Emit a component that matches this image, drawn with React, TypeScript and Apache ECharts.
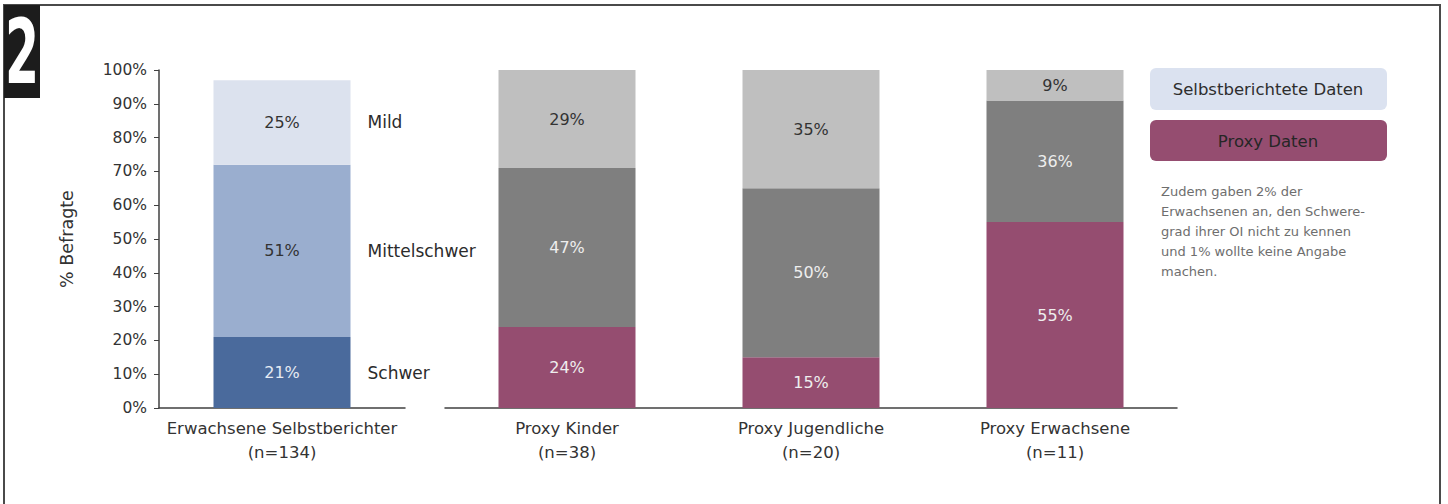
import React, { useEffect, useRef } from "react";
import * as echarts from "echarts";

// Severity shares (%) reported by adult self-reporters
const selfCategories = ["Erwachsene Selbstberichter\n(n=134)"];
const selfSchwer = [21];
const selfMittel = [51];
const selfMild = [25];

// Severity shares (%) reported by proxies
const proxyCategories = [
  "Proxy Kinder\n(n=38)",
  "Proxy Jugendliche\n(n=20)",
  "Proxy Erwachsene\n(n=11)",
];
const proxySchwer = [24, 15, 55];
const proxyMittel = [47, 50, 36];
const proxyMild = [29, 35, 9];

const severityNames = ["Schwer", "Mittelschwer", "Mild"];
const legendItems = ["Selbstberichtete Daten", "Proxy Daten"];
const noteLines = [
  "Zudem gaben 2% der",
  "Erwachsenen an, den Schwere-",
  "grad ihrer OI nicht zu kennen",
  "und 1% wollte keine Angabe",
  "machen.",
];

const FONT = '"DejaVu Sans", sans-serif';
const BAR_W = 137;

function valueLabel(color: string) {
  return {
    show: true,
    position: "inside" as const,
    formatter: "{c}%",
    color,
    fontFamily: FONT,
    fontSize: 16,
  };
}

export default function App() {
  const ref = useRef<HTMLDivElement>(null);

  useEffect(() => {
    if (!ref.current) return;
    const chart = echarts.init(ref.current, undefined, { renderer: "svg" });

    const selfSeries = [
      { name: severityNames[0], data: selfSchwer, color: "#4a6a9c", label: "#e6ebf3" },
      { name: severityNames[1], data: selfMittel, color: "#9aaecf", label: "#333333" },
      { name: severityNames[2], data: selfMild, color: "#dce2ee", label: "#333333" },
    ].map((s) => ({
      type: "bar",
      name: s.name,
      xAxisIndex: 0,
      yAxisIndex: 0,
      stack: "self",
      barWidth: BAR_W,
      barGap: "-100%",
      data: s.data,
      itemStyle: { color: s.color },
      label: valueLabel(s.label),
      silent: true,
    }));

    // invisible overlay carrying the severity names to the right of the bar
    const nameSeries = [selfSchwer, selfMittel, selfMild].map((d, i) => ({
      type: "bar",
      name: severityNames[i],
      xAxisIndex: 0,
      yAxisIndex: 0,
      stack: "names",
      barWidth: BAR_W,
      barGap: "-100%",
      data: d,
      itemStyle: { color: "rgba(0,0,0,0)" },
      label: {
        show: true,
        position: "right" as const,
        distance: 17,
        formatter: "{a}",
        color: "#2b2b2b",
        fontFamily: FONT,
        fontSize: 17,
      },
      silent: true,
    }));

    const proxySeries = [
      { name: severityNames[0], data: proxySchwer, color: "#954d70", label: "#eeeeee" },
      { name: severityNames[1], data: proxyMittel, color: "#7f7f7f", label: "#eeeeee" },
      { name: severityNames[2], data: proxyMild, color: "#bfbfbf", label: "#333333" },
    ].map((s) => ({
      type: "bar",
      name: s.name,
      xAxisIndex: 1,
      yAxisIndex: 1,
      stack: "proxy",
      barWidth: BAR_W,
      data: s.data,
      itemStyle: { color: s.color },
      label: valueLabel(s.label),
      silent: true,
    }));

    const catAxisLabel = {
      color: "#333333",
      fontFamily: FONT,
      fontSize: 16.5,
      lineHeight: 24,
      margin: 8,
      interval: 0,
    };

    chart.setOption({
      animation: false,
      backgroundColor: "#ffffff",
      grid: [
        { left: 159, right: 1448 - 405, top: 70, bottom: 504 - 408 },
        { left: 445, right: 1448 - 1177, top: 70, bottom: 504 - 408 },
      ],
      xAxis: [
        {
          type: "category",
          gridIndex: 0,
          data: selfCategories,
          axisLine: { lineStyle: { color: "#404040", width: 1.5 } },
          axisTick: { show: false },
          axisLabel: catAxisLabel,
        },
        {
          type: "category",
          gridIndex: 1,
          data: proxyCategories,
          axisLine: { lineStyle: { color: "#404040", width: 1.5 } },
          axisTick: { show: false },
          axisLabel: catAxisLabel,
        },
      ],
      yAxis: [
        {
          type: "value",
          gridIndex: 0,
          min: 0,
          max: 100,
          interval: 10,
          name: "% Befragte",
          nameLocation: "middle",
          nameGap: 83,
          nameTextStyle: { color: "#333333", fontFamily: FONT, fontSize: 17.5 },
          axisLine: { show: true, lineStyle: { color: "#404040", width: 1.5 } },
          axisTick: { show: true, length: 5, lineStyle: { color: "#404040" } },
          splitLine: { show: false },
          axisLabel: {
            formatter: "{value}%",
            color: "#333333",
            fontFamily: FONT,
            fontSize: 15.5,
            margin: 12,
          },
        },
        {
          type: "value",
          gridIndex: 1,
          min: 0,
          max: 100,
          interval: 10,
          show: false,
          splitLine: { show: false },
        },
      ],
      series: [...selfSeries, ...nameSeries, ...proxySeries],
      graphic: [
        // outer frame
        {
          type: "rect",
          shape: { x: 4, y: 5, width: 1436, height: 600 },
          style: { fill: "none", stroke: "#4a4a4a", lineWidth: 2 },
          silent: true,
        },
        // figure number badge
        {
          type: "rect",
          shape: { x: 4, y: 5, width: 36, height: 93 },
          style: { fill: "#1c1c1c" },
          silent: true,
        },
        {
          type: "text",
          x: 22,
          y: 97,
          scaleX: 0.55,
          style: {
            text: "2",
            fill: "#ffffff",
            font: `bold 89px ${FONT}`,
            align: "center",
            verticalAlign: "bottom",
            textAlign: "center",
            textVerticalAlign: "bottom",
          },
          silent: true,
        },
        // legend boxes
        {
          type: "rect",
          shape: { x: 1150, y: 68, width: 237, height: 42, r: 6 },
          style: { fill: "#dbe2f0" },
          silent: true,
        },
        {
          type: "text",
          x: 1268,
          y: 89,
          style: {
            text: legendItems[0],
            fill: "#2e2e2e",
            font: `16.5px ${FONT}`,
            align: "center",
            verticalAlign: "middle",
            textAlign: "center",
            textVerticalAlign: "middle",
          },
          silent: true,
        },
        {
          type: "rect",
          shape: { x: 1150, y: 120, width: 237, height: 41, r: 6 },
          style: { fill: "#954d70" },
          silent: true,
        },
        {
          type: "text",
          x: 1268,
          y: 141,
          style: {
            text: legendItems[1],
            fill: "#262626",
            font: `16.5px ${FONT}`,
            align: "center",
            verticalAlign: "middle",
            textAlign: "center",
            textVerticalAlign: "middle",
          },
          silent: true,
        },
        // note on the right
        {
          type: "text",
          x: 1161,
          y: 181,
          style: {
            text: noteLines.join("\n"),
            fill: "#6e6e6e",
            font: `13px ${FONT}`,
            lineHeight: 20,
            align: "left",
            verticalAlign: "top",
            textAlign: "left",
            textVerticalAlign: "top",
          },
          silent: true,
        },
      ],
    });

    return () => chart.dispose();
  }, []);

  return (
    <div
      ref={ref}
      style={{ position: "absolute", left: 0, top: 0, width: 1448, height: 504 }}
    />
  );
}
